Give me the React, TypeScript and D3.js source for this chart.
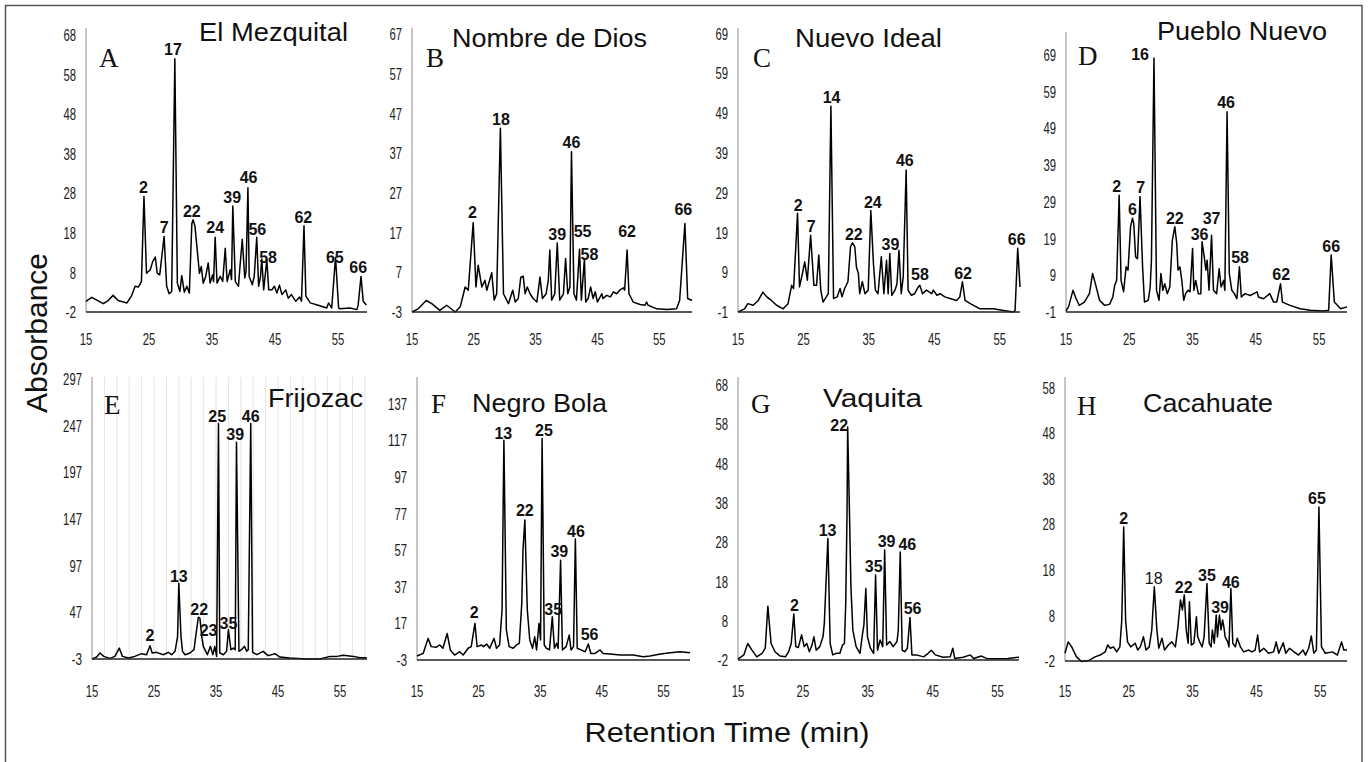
import React from 'react';
import * as d3 from 'd3';

type Pt = [number, number];
type Lbl = [string, number, number];

// ---------- data: chromatogram traces [retention time (min), absorbance] ----------
const traceA: Pt[] = [[15.0,0.7],[15.9,1.7],[17.75,0.1],[18.5,0.9],[19.3,2.2],[20.1,0.9],[21.5,0.3],[22.2,2.0],[22.8,4.5],[23.3,4.3],[23.8,5.7],[24.2,27.2],[24.6,7.8],[25.2,8.7],[25.6,10.8],[26.0,11.9],[26.3,7.8],[26.7,7.4],[27.4,17.1],[27.8,4.5],[28.2,2.6],[28.6,3.2],[29.1,62.0],[29.5,5.3],[29.9,3.2],[30.2,7.2],[30.6,3.0],[31.0,4.5],[31.4,2.8],[31.8,20.4],[32.0,21.3],[32.3,19.6],[32.7,12.9],[33.0,7.8],[33.3,9.5],[33.6,5.3],[34.0,7.0],[34.4,10.4],[34.7,5.3],[35.1,7.4],[35.25,5.7],[35.5,16.9],[35.8,5.3],[36.3,7.0],[36.7,5.7],[37.1,14.1],[37.4,5.7],[37.9,8.7],[38.1,6.2],[38.3,24.8],[38.7,5.7],[39.2,4.5],[39.4,8.7],[39.8,16.4],[40.2,6.6],[40.4,8.3],[40.7,29.4],[40.9,7.0],[41.4,4.9],[41.7,7.0],[42.1,16.9],[42.4,4.5],[42.7,7.0],[42.9,11.4],[43.2,3.6],[43.7,11.2],[44.0,3.6],[44.5,3.6],[44.9,4.5],[45.3,2.8],[45.7,4.8],[46.1,2.4],[46.7,3.6],[47.1,1.5],[47.6,2.4],[48.3,0.7],[48.9,1.8],[49.2,0.7],[49.6,19.8],[49.9,2.0],[50.6,0.3],[52.1,-0.4],[53.2,-1.0],[53.5,0.3],[54.0,-1.0],[54.6,11.8],[55.1,-1.0],[55.3,-1.2],[56.9,-1.0],[58.0,-1.4],[58.2,-0.2],[58.65,7.0],[59.0,0.7],[59.5,-0.2]];

const traceB: Pt[] = [[15.0,-3.0],[16.0,-2.2],[17.3,-0.1],[18.2,-0.9],[19.5,-2.6],[20.6,-1.3],[22.0,-3.0],[22.8,-1.7],[23.6,3.3],[24.1,2.5],[24.9,19.5],[25.35,3.3],[25.7,8.8],[26.3,3.3],[26.8,5.0],[27.1,2.5],[27.9,6.9],[28.3,0.0],[28.7,1.6],[29.3,43.3],[29.8,1.6],[30.6,-0.9],[31.3,2.5],[31.7,-0.5],[32.2,0.4],[32.6,5.8],[33.0,6.0],[33.3,1.6],[33.65,3.3],[34.1,1.6],[34.6,0.4],[35.2,-0.5],[35.7,5.8],[36.1,0.4],[36.7,1.6],[37.05,5.0],[37.3,12.6],[37.6,0.0],[38.1,1.6],[38.5,14.4],[38.9,0.0],[39.5,1.6],[39.85,10.5],[40.2,1.6],[40.55,3.3],[40.8,37.4],[41.2,1.6],[41.6,0.0],[42.1,12.8],[42.4,0.0],[42.9,10.5],[43.1,-0.5],[43.5,0.4],[43.9,3.3],[44.3,0.4],[44.65,2.1],[45.0,-0.5],[45.7,1.6],[45.9,0.4],[46.5,1.2],[47.1,0.8],[47.6,2.1],[48.1,1.6],[48.6,2.5],[49.2,3.1],[49.4,2.5],[49.8,12.6],[50.1,1.6],[50.8,-0.5],[51.9,-1.1],[52.7,-1.3],[52.95,-0.5],[53.2,-1.3],[54.6,-2.2],[56.2,-2.4],[57.8,-2.2],[58.3,-0.1],[59.15,19.3],[59.6,0.4],[60.3,-0.1]];

const traceC: Pt[] = [[15.0,-1.0],[16.0,-0.2],[16.5,1.1],[17.3,0.7],[18.1,1.9],[18.8,4.0],[19.4,2.8],[20.1,1.9],[20.9,0.7],[21.9,-0.2],[22.65,1.1],[23.2,5.7],[23.5,4.9],[24.1,23.8],[24.4,5.3],[24.9,9.1],[25.2,11.6],[25.6,7.0],[26.1,18.3],[26.6,5.7],[27.0,5.7],[27.35,13.3],[27.65,4.5],[28.0,1.5],[28.8,3.6],[29.2,50.7],[29.6,2.4],[30.15,2.8],[30.6,4.9],[30.9,2.8],[31.3,4.9],[31.8,6.6],[32.2,15.4],[32.5,16.4],[32.85,15.4],[33.1,10.3],[33.4,8.7],[33.6,3.6],[34.0,6.6],[34.4,3.6],[34.9,4.5],[35.3,24.5],[35.7,11.2],[36.0,4.5],[36.4,3.6],[36.9,12.9],[37.3,3.6],[37.7,12.0],[37.95,3.6],[38.2,13.7],[38.5,3.2],[39.0,4.5],[39.3,6.1],[39.6,14.5],[39.95,3.6],[40.25,7.8],[40.7,34.7],[41.0,4.5],[41.5,3.2],[42.0,3.6],[42.55,5.3],[42.8,5.7],[43.2,3.6],[43.8,4.5],[44.6,3.6],[44.85,4.5],[45.4,3.2],[45.9,3.6],[46.6,2.8],[47.4,2.4],[48.4,1.9],[48.9,2.8],[49.3,6.6],[49.7,1.9],[50.5,1.1],[52.0,-0.2],[54.0,-0.2],[55.6,-0.6],[57.1,-1.0],[57.35,-0.6],[57.75,15.0],[58.1,5.3]];

const traceD: Pt[] = [[15.0,-0.7],[15.4,0.4],[16.1,4.9],[16.6,2.6],[17.1,0.8],[17.9,1.7],[18.7,4.0],[19.2,9.5],[19.7,6.3],[20.3,2.2],[21.1,0.8],[21.9,1.1],[22.4,3.1],[22.7,6.3],[23.0,7.6],[23.4,30.8],[23.7,7.6],[24.1,4.5],[24.5,11.3],[24.8,10.4],[25.2,22.2],[25.5,24.5],[25.7,23.1],[26.0,14.0],[26.3,13.5],[26.7,30.4],[27.1,11.3],[27.4,1.7],[28.0,2.2],[28.3,5.8],[28.5,13.1],[28.9,68.1],[29.3,4.9],[29.7,2.2],[30.0,9.5],[30.3,4.9],[30.6,6.7],[31.0,4.0],[31.4,5.8],[31.8,18.5],[32.2,22.2],[32.5,17.6],[32.7,10.4],[33.0,11.3],[33.3,7.6],[33.6,2.2],[33.9,4.0],[34.3,4.9],[34.6,4.5],[35.0,16.3],[35.2,4.9],[35.5,7.6],[35.9,4.0],[36.3,4.0],[36.5,18.1],[36.85,14.0],[37.1,10.4],[37.3,13.1],[37.6,4.9],[38.0,19.9],[38.3,4.9],[38.8,4.0],[39.2,10.8],[39.5,5.8],[39.9,7.6],[40.1,4.9],[40.45,53.5],[40.8,9.5],[41.2,4.9],[41.6,4.0],[42.0,2.6],[42.4,11.3],[42.7,3.1],[43.3,4.0],[44.1,3.5],[45.2,4.5],[45.4,3.1],[46.2,2.6],[47.2,4.0],[47.8,1.7],[48.3,1.7],[48.9,6.7],[49.2,1.7],[50.4,0.8],[52.0,-0.1],[53.6,-0.5],[55.7,-0.7],[56.5,-0.5],[56.9,14.5],[57.4,1.7],[58.4,-0.1],[59.4,0.4]];

const traceE: Pt[] = [[15.0,-3.0],[15.75,-0.9],[16.3,3.4],[16.9,-0.2],[17.9,-2.3],[18.7,-0.2],[19.4,8.7],[19.9,-0.2],[20.9,-1.9],[21.9,-0.2],[23.0,2.7],[23.8,1.6],[24.35,11.2],[24.7,3.4],[25.4,4.1],[26.5,1.6],[27.3,4.1],[27.85,1.6],[28.4,5.2],[28.8,21.2],[29.0,78.1],[29.35,21.2],[29.6,5.2],[30.0,1.6],[30.8,3.4],[31.45,7.0],[31.8,24.8],[32.15,41.8],[32.4,40.8],[32.7,21.2],[32.95,10.5],[33.6,1.6],[34.1,10.5],[34.5,1.6],[34.8,10.5],[35.1,-0.2],[35.4,249.0],[35.6,3.4],[36.2,1.6],[36.7,5.2],[37.0,28.3],[37.4,7.0],[37.8,8.7],[38.1,7.0],[38.3,229.0],[38.7,5.2],[39.1,7.0],[39.6,10.5],[39.95,5.2],[40.2,7.0],[40.6,249.0],[40.9,4.1],[41.6,1.6],[42.6,5.2],[43.4,0.6],[44.5,2.7],[45.3,-0.9],[46.9,-1.9],[49.6,-3.0],[51.8,-3.0],[53.4,-0.2],[54.5,-0.2],[55.5,0.9],[57.2,-0.2],[58.2,-1.6],[59.3,-1.6]];

const traceF: Pt[] = [[15.0,-0.8],[16.0,0.6],[16.8,8.8],[17.3,4.3],[18.1,3.9],[18.7,5.2],[19.2,3.4],[19.9,11.5],[20.4,2.5],[21.1,-0.3],[21.9,1.5],[22.5,-0.3],[23.3,3.4],[23.8,4.3],[24.4,17.0],[24.75,4.3],[25.5,5.2],[25.8,4.3],[26.3,5.7],[26.8,3.4],[27.5,8.8],[27.9,3.4],[28.4,5.2],[28.8,24.3],[29.1,117.0],[29.5,13.4],[29.95,4.3],[30.6,3.4],[31.15,5.2],[31.6,6.1],[32.0,27.9],[32.2,57.0],[32.5,73.4],[32.9,24.3],[33.3,7.9],[33.75,3.4],[34.1,9.7],[34.4,2.5],[34.8,17.0],[35.05,7.9],[35.3,117.9],[35.65,5.2],[36.0,3.4],[36.5,2.5],[36.95,20.6],[37.3,3.4],[37.65,6.1],[37.9,3.4],[38.3,51.5],[38.6,2.5],[39.2,4.3],[39.7,10.6],[40.0,2.5],[40.4,4.3],[40.7,63.0],[41.0,3.4],[41.6,2.5],[42.3,1.5],[42.8,5.7],[43.2,0.6],[43.9,0.6],[44.7,2.5],[45.2,0.6],[46.3,0.3],[48.0,-0.3],[50.1,-0.3],[51.7,-1.2],[52.8,-0.8],[54.5,0.3],[56.1,1.0],[57.7,1.5],[59.3,1.0]];

const traceG: Pt[] = [[15.0,-1.8],[15.9,-0.7],[16.5,2.2],[17.15,0.5],[17.9,-1.2],[18.7,-0.3],[19.2,1.0],[19.6,11.7],[20.1,2.2],[20.7,0.1],[21.5,-1.0],[22.3,-1.2],[22.8,0.1],[23.2,2.2],[23.6,9.7],[23.9,1.4],[24.3,1.2],[24.8,4.4],[25.2,1.4],[25.6,2.2],[26.0,0.1],[26.4,1.8],[26.7,3.9],[27.05,0.5],[27.6,1.4],[28.1,3.9],[28.3,7.3],[28.85,28.9],[29.2,2.2],[29.6,-0.7],[30.2,-0.3],[30.7,-0.3],[31.1,1.8],[31.4,2.2],[31.6,12.4],[31.8,35.3],[31.9,57.3],[32.2,33.6],[32.4,16.6],[32.7,5.6],[33.2,1.4],[33.8,-0.3],[34.2,4.8],[34.4,6.9],[34.7,16.2],[34.95,3.9],[35.4,1.0],[35.9,-0.3],[36.2,19.6],[36.5,0.5],[36.9,3.1],[37.3,1.4],[37.6,26.0],[37.9,1.8],[38.4,2.7],[38.9,1.4],[39.5,2.7],[39.7,5.6],[40.0,25.5],[40.3,0.5],[40.7,0.1],[41.1,1.0],[41.5,8.8],[41.8,-0.7],[42.5,-0.7],[43.6,-1.2],[44.3,-0.3],[44.8,0.5],[45.4,-0.7],[46.6,-1.3],[47.7,-1.2],[48.1,1.0],[48.4,-1.6],[49.7,-1.3],[50.8,-0.7],[51.3,-1.6],[52.5,-1.0],[53.3,-1.6],[54.8,-1.7],[56.6,-1.6],[58.3,-1.3]];

const traceH: Pt[] = [[15.0,-0.3],[15.5,2.2],[16.05,1.1],[16.8,-1.1],[17.6,-2.1],[18.7,-1.9],[19.7,-1.1],[20.5,-0.7],[21.3,0.0],[21.7,1.5],[22.1,0.8],[22.6,1.1],[23.1,0.0],[23.6,1.1],[23.9,7.0],[24.2,27.4],[24.5,7.0],[24.8,2.2],[25.3,1.1],[26.0,1.9],[26.4,0.4],[26.8,1.1],[27.3,3.3],[27.7,0.4],[28.2,1.1],[28.6,4.8],[29.0,14.3],[29.4,4.8],[29.7,0.8],[30.2,3.0],[30.6,0.4],[31.2,1.5],[31.75,2.2],[32.3,1.1],[32.7,5.5],[33.1,11.4],[33.4,9.2],[33.7,12.5],[34.0,4.8],[34.3,1.9],[34.5,11.0],[34.8,1.5],[35.2,1.9],[35.6,7.7],[35.8,3.3],[36.2,1.9],[36.5,1.1],[36.8,3.3],[37.25,15.0],[37.6,1.9],[37.9,1.1],[38.1,4.8],[38.4,1.9],[38.7,8.1],[38.9,3.3],[39.2,8.1],[39.45,4.8],[39.7,7.0],[39.9,5.5],[40.1,3.3],[40.5,2.2],[40.7,1.1],[41.0,13.9],[41.3,1.9],[41.7,1.1],[42.0,3.0],[42.5,1.1],[43.0,0.0],[43.8,0.4],[44.3,0.0],[44.8,0.4],[45.2,3.7],[45.5,0.0],[46.15,0.8],[46.9,-0.3],[47.7,0.0],[48.1,2.2],[48.5,-0.3],[49.2,2.0],[49.6,-0.3],[50.2,0.8],[50.9,0.0],[51.6,-0.7],[52.3,0.4],[52.7,-0.7],[53.2,0.8],[53.6,3.5],[54.0,-0.3],[54.4,0.4],[54.8,31.8],[55.2,1.1],[55.8,-0.3],[56.9,0.0],[57.7,-0.7],[58.35,2.2],[58.7,0.4],[59.2,0.4]];

// ---------- peak labels [compound no., time, absorbance at label baseline] ----------
const peaksA: Lbl[] = [['2',24.1,28.2],['7',27.4,17.9],['17',28.8,62.9],['22',31.8,22.0],['24',35.5,17.9],['39',38.2,25.6],['46',40.8,30.5],['56',42.2,17.5],['58',43.9,10.4],['62',49.5,20.6],['65',54.5,10.4],['66',58.2,7.8]];
const peaksB: Lbl[] = [['2',24.8,20.6],['18',29.4,44.2],['39',38.5,15.1],['46',40.8,38.3],['55',42.6,16.0],['58',43.7,10.1],['62',49.8,15.8],['66',58.9,21.5]];
const peaksC: Lbl[] = [['2',24.2,24.5],['7',26.2,19.2],['14',29.3,51.5],['22',32.7,17.1],['24',35.6,25.1],['39',38.3,14.7],['46',40.5,35.6],['58',42.8,7.0],['62',49.4,7.4],['66',57.6,15.8]];
const peaksD: Lbl[] = [['2',23.0,31.7],['6',25.5,25.4],['7',26.8,31.5],['16',26.7,67.6],['22',32.2,22.9],['36',36.1,18.7],['37',38.0,22.9],['46',40.3,54.5],['58',42.5,12.2],['62',49.0,7.8],['66',56.9,15.4]];
const peaksE: Lbl[] = [['2',24.35,15.9],['13',29.0,79.9],['22',32.3,44.3],['23',33.8,21.2],['25',35.2,250.7],['35',37.0,29.0],['39',38.1,231.9],['46',40.6,250.7]];
const peaksF: Lbl[] = [['2',24.3,19.7],['13',29.0,117.9],['22',32.5,75.5],['25',35.6,119.2],['35',37.1,21.5],['39',38.1,53.4],['46',40.8,64.3],['56',43.0,7.9]];
const peaksG: Lbl[] = [['2',23.7,10.5],['13',28.8,29.6],['22',30.6,56.3],['35',35.9,20.5],['39',37.9,26.8],['46',41.1,26.0],['56',41.9,9.7]];
const peaksH: Lbl[] = [['2',24.2,28.1],['18',28.9,15.0],['22',33.6,13.0],['35',37.25,15.6],['39',39.3,8.6],['46',41.0,14.1],['65',54.5,32.5]];

// ---------- axis tick labels ----------
const xTicks = [15, 25, 35, 45, 55];
const yTicksA = [-2, 8, 18, 28, 38, 48, 58, 68];
const yTicksB = [-3, 7, 17, 27, 37, 47, 57, 67];
const yTicksC = [-1, 9, 19, 29, 39, 49, 59, 69];
const yTicksD = [-1, 9, 19, 29, 39, 49, 59, 69];
const yTicksE = [-3, 47, 97, 147, 197, 247, 297];
const yTicksF = [-3, 17, 37, 57, 77, 97, 117, 137];
const yTicksG = [-2, 8, 18, 28, 38, 48, 58, 68];
const yTicksH = [-2, 8, 18, 28, 38, 48, 58];
const gridE = [17, 19, 21, 23, 25, 27, 29, 31, 33, 35, 37, 39, 41, 43, 45, 47, 49, 51, 53, 55, 57, 59];

const titles = ['El Mezquital', 'Nombre de Dios', 'Nuevo Ideal', 'Pueblo Nuevo', 'Frijozac', 'Negro Bola', 'Vaquita', 'Cacahuate'];
const letters = ['A', 'B', 'C', 'D', 'E', 'F', 'G', 'H'];

// ---------- layout ----------
interface Layout {
  x0: number; x1: number; xMax: number;
  yTop: number; yBottom: number; yMin: number; yMax: number;
  titleX: number; titleY: number; titleW: number;
  letterX: number; letterY: number;
  tickY: number;
}
const layouts: Layout[] = [
  { x0: 86, x1: 367, xMax: 59.6, yTop: 28, yBottom: 312, yMin: -2, yMax: 69.8, titleX: 199, titleY: 41, titleW: 149, letterX: 99, letterY: 67, tickY: 345 },
  { x0: 412, x1: 692, xMax: 60.3, yTop: 28, yBottom: 312, yMin: -3, yMax: 68.6, titleX: 452, titleY: 47, titleW: 195, letterX: 426, letterY: 67, tickY: 345 },
  { x0: 738, x1: 1020, xMax: 58.1, yTop: 28, yBottom: 312, yMin: -1, yMax: 70.4, titleX: 795, titleY: 47, titleW: 147, letterX: 753, letterY: 67, tickY: 345 },
  { x0: 1066, x1: 1347, xMax: 59.4, yTop: 32, yBottom: 312, yMin: -1, yMax: 75.2, titleX: 1157, titleY: 40, titleW: 170, letterX: 1078, letterY: 65, tickY: 345 },
  { x0: 92, x1: 367, xMax: 59.35, yTop: 377, yBottom: 659, yMin: -3, yMax: 298.8, titleX: 268, titleY: 407, titleW: 95, letterX: 104, letterY: 414, tickY: 697 },
  { x0: 417, x1: 690, xMax: 59.3, yTop: 377, yBottom: 660, yMin: -3, yMax: 151.5, titleX: 472, titleY: 412, titleW: 135, letterX: 431, letterY: 413, tickY: 697 },
  { x0: 738, x1: 1019, xMax: 58.3, yTop: 377, yBottom: 660, yMin: -2, yMax: 70.0, titleX: 823, titleY: 407, titleW: 99, letterX: 751, letterY: 413, tickY: 697 },
  { x0: 1065, x1: 1347, xMax: 59.2, yTop: 377, yBottom: 661, yMin: -2, yMax: 60.3, titleX: 1143, titleY: 412, titleW: 130, letterX: 1077, letterY: 415, tickY: 697 },
];

const traces = [traceA, traceB, traceC, traceD, traceE, traceF, traceG, traceH];
const peaks = [peaksA, peaksB, peaksC, peaksD, peaksE, peaksF, peaksG, peaksH];
const yTicks = [yTicksA, yTicksB, yTicksC, yTicksD, yTicksE, yTicksF, yTicksG, yTicksH];

const SANS = "'Liberation Sans', Arial, Helvetica, sans-serif";
const NARROW = "'Liberation Sans Narrow', 'Arial Narrow', 'Liberation Sans', sans-serif";
const SERIF = "'Liberation Serif', 'Times New Roman', serif";

function tickWidth(s: string) {
  let w = 0;
  for (const ch of s) w += ch === '-' ? 4.2 : 6.3;
  return w;
}

function Panel({ i }: { i: number }) {
  const L = layouts[i];
  const x = d3.scaleLinear().domain([15, L.xMax]).range([L.x0, L.x1]);
  const y = d3.scaleLinear().domain([L.yMin, L.yMax]).range([L.yBottom, L.yTop]);
  const line = d3.line<Pt>().x(d => x(d[0])).y(d => y(d[1]));
  const path = line(traces[i]) || '';
  return (
    <g>
      {i === 4 && gridE.map(g => (
        <line key={'g' + g} x1={x(g)} x2={x(g)} y1={L.yTop} y2={L.yBottom} stroke="#e4e4e4" strokeWidth={1} />
      ))}
      <line x1={L.x0} x2={L.x0} y1={L.yTop} y2={L.yBottom} stroke="#8c8c8c" strokeWidth={1} />
      {yTicks[i].map(t => {
        const s = String(t);
        return (
          <text key={'y' + t} x={L.x0 - 10} y={y(t)} dy="0.36em" textAnchor="end" fontFamily={NARROW}
            fontSize={17} fill="#222" textLength={tickWidth(s)} lengthAdjust="spacingAndGlyphs">{s}</text>
        );
      })}
      {xTicks.map(t => {
        const s = String(t);
        return (
          <text key={'x' + t} x={x(t)} y={L.tickY} textAnchor="middle" fontFamily={NARROW}
            fontSize={17} fill="#222" textLength={tickWidth(s)} lengthAdjust="spacingAndGlyphs">{s}</text>
        );
      })}
      <path d={path} fill="none" stroke="#000" strokeWidth={1.5} strokeLinejoin="round" />
      <line x1={L.x0} x2={L.x1} y1={L.yBottom} y2={L.yBottom} stroke="#222" strokeWidth={1.6} />
      {peaks[i].map(([lab, t, v], k) => (
        <text key={'p' + k} x={x(t)} y={y(v)} textAnchor="middle" fontFamily={SANS}
          fontWeight={i === 7 && lab === '18' ? 'normal' : 'bold'} fontSize={16} fill="#111">{lab}</text>
      ))}
      <text x={L.titleX} y={L.titleY} fontFamily={SANS} fontSize={26} fill="#111"
        textLength={L.titleW} lengthAdjust="spacingAndGlyphs">{titles[i]}</text>
      <text x={L.letterX} y={L.letterY} fontFamily={SERIF} fontSize={27} fill="#111">{letters[i]}</text>
    </g>
  );
}

export default function App() {
  return (
    <svg width={1368} height={762} style={{ position: 'absolute', left: 0, top: 0, background: '#fff' }}>
      <rect x={0} y={0} width={1368} height={762} fill="#fff" />
      <rect x={5.5} y={5.5} width={1356.5} height={800} fill="none" stroke="#555" strokeWidth={1.5} />
      {layouts.map((_, i) => <Panel key={i} i={i} />)}
      <text transform="translate(47,333) rotate(-90)" textAnchor="middle" fontFamily={SANS} fontSize={29}
        fill="#111" textLength={160} lengthAdjust="spacingAndGlyphs">Absorbance</text>
      <text x={727} y={742} textAnchor="middle" fontFamily={SANS} fontSize={28} fill="#111"
        textLength={285} lengthAdjust="spacingAndGlyphs">Retention Time (min)</text>
    </svg>
  );
}
